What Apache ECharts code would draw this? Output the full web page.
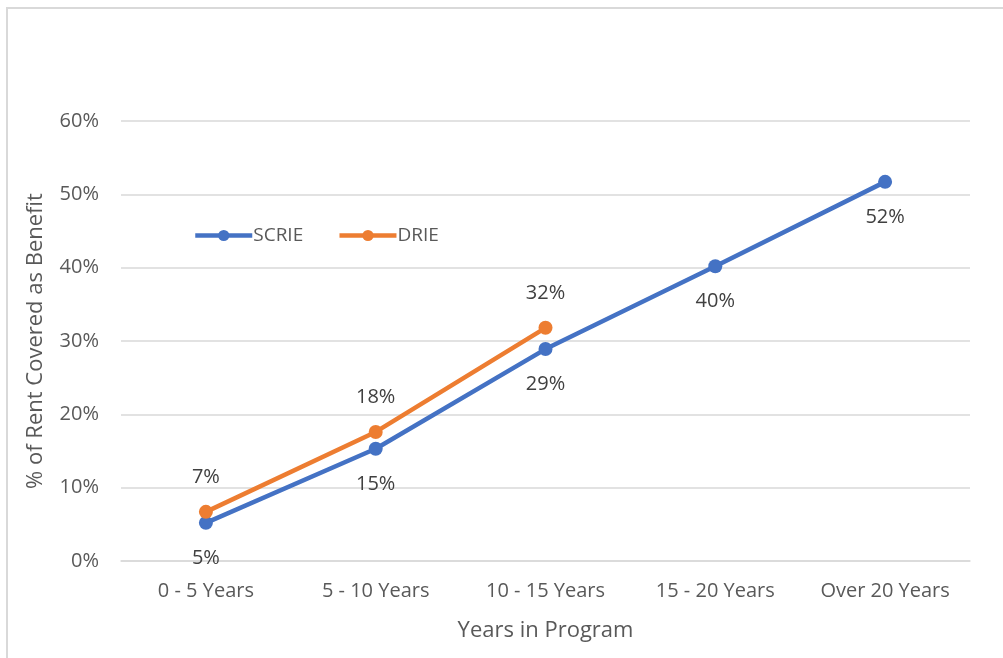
<!DOCTYPE html>
<html>
<head>
<meta charset="utf-8">
<script src="https://cdn.jsdelivr.net/npm/echarts@6/dist/echarts.min.js"></script>
<style>
  html, body { margin: 0; padding: 0; background: #fff; }
  #frame { position: absolute; left: 6px; top: 7px; width: 1010px; height: 670px; border: 2px solid #d9d9d9; box-sizing: border-box; }
  #chart { position: absolute; left: 0; top: 0; width: 1003px; height: 658px; }
</style>
</head>
<body>
<div id="frame"></div>
<div id="chart"></div>
<script>
// Share of rent covered by the exemption, by years enrolled
const categories = ['0 - 5 Years', '5 - 10 Years', '10 - 15 Years', '15 - 20 Years', 'Over 20 Years'];
const scrieValues = [5.2, 15.3, 28.9, 40.2, 51.7];
const drieValues = [6.7, 17.6, 31.8, null, null];
const yTicks = [0, 10, 20, 30, 40, 50, 60];

const FONT = '"Open Sans", sans-serif';
const TEXT = '#595959';
const BLUE = '#4472c4';
const ORANGE = '#ed7d31';

const chart = echarts.init(document.getElementById('chart'), null, { renderer: 'canvas' });

function pct(p) { return Math.round(p.value) + '%'; }

chart.setOption({
  animation: false,
  backgroundColor: 'transparent',
  textStyle: { fontFamily: FONT },
  legend: {
    left: 188,
    top: 221,
    itemWidth: 57,
    itemHeight: 14,
    itemGap: 34,
    textStyle: { fontFamily: FONT, fontSize: 19, color: TEXT, padding: [0, 0, 0, -4] },
    lineStyle: { width: 4.5 },
    data: ['SCRIE', 'DRIE']
  },
  grid: { left: 121, right: 33, top: 121, bottom: 97, containLabel: false },
  xAxis: {
    type: 'category',
    data: categories,
    boundaryGap: true,
    axisLine: { show: true, lineStyle: { color: '#d9d9d9', width: 1.5 } },
    axisTick: { show: false },
    axisLabel: { fontFamily: FONT, fontSize: 20, color: TEXT, margin: 20 },
    name: 'Years in Program',
    nameLocation: 'middle',
    nameGap: 59,
    nameTextStyle: { fontFamily: FONT, fontSize: 22, color: TEXT }
  },
  yAxis: {
    type: 'value',
    min: yTicks[0],
    max: yTicks[yTicks.length - 1],
    interval: 10,
    axisLine: { show: false },
    axisTick: { show: false },
    splitLine: { lineStyle: { color: '#d9d9d9', width: 1.5 } },
    axisLabel: { fontFamily: FONT, fontSize: 20, color: TEXT, margin: 22, formatter: v => v + '%' },
    name: '% of Rent Covered as Benefit',
    nameLocation: 'middle',
    nameGap: 74,
    nameRotate: 90,
    nameTextStyle: { fontFamily: FONT, fontSize: 22, color: TEXT }
  },
  series: [
    {
      name: 'SCRIE',
      type: 'line',
      data: scrieValues,
      color: BLUE,
      lineStyle: { width: 4.5, color: BLUE },
      symbol: 'circle',
      symbolSize: 14,
      itemStyle: { color: BLUE },
      z: 2,
      label: {
        show: true, position: 'bottom', distance: 18,
        formatter: pct, fontFamily: FONT, fontSize: 20, color: '#404040'
      }
    },
    {
      name: 'DRIE',
      type: 'line',
      data: drieValues,
      color: ORANGE,
      lineStyle: { width: 4.5, color: ORANGE },
      symbol: 'circle',
      symbolSize: 14,
      itemStyle: { color: ORANGE },
      z: 3,
      label: {
        show: true, position: 'top', distance: 18,
        formatter: pct, fontFamily: FONT, fontSize: 20, color: '#404040'
      }
    }
  ]
});
</script>
</body>
</html>
